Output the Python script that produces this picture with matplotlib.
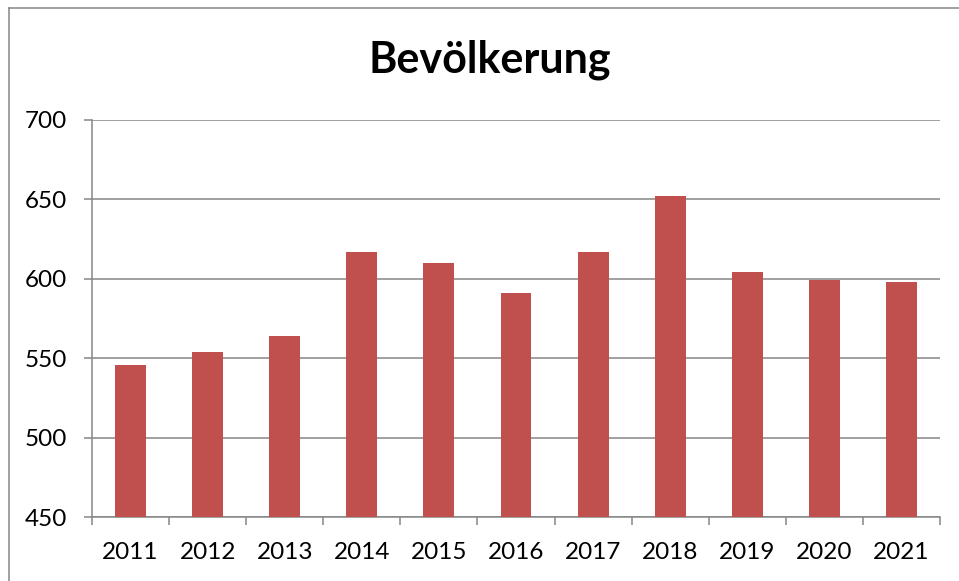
import matplotlib.pyplot as plt
import numpy as np
from matplotlib.lines import Line2D

plt.rcParams['font.family'] = ['Lato', 'DejaVu Sans']

years = ['2011', '2012', '2013', '2014', '2015', '2016',
         '2017', '2018', '2019', '2020', '2021']
values = [546, 554, 564, 617, 610, 591, 617, 652, 604, 599, 598]
yticks = [450, 500, 550, 600, 650, 700]

W, H = 959, 581
fig = plt.figure(figsize=(W / 100, H / 100), dpi=100)
ax = fig.add_axes([92 / W, 1 - 517 / H, (940 - 92) / W, (517 - 120) / H])

grey = '#868686'
x = np.arange(len(years))
ax.bar(x, [v - yticks[0] for v in values], bottom=yticks[0], width=0.4,
       color='#C0504D', zorder=3)

ax.set_xlim(-0.5, len(years) - 0.5)
ax.set_ylim(yticks[0], yticks[-1])
ax.set_yticks(yticks)
ax.set_yticklabels([str(v) for v in yticks], fontsize=17.5)
ax.yaxis.grid(True, color=grey, linewidth=1.1, zorder=0)

# category labels in the middle, tick marks on the boundaries
ax.set_xticks(x)
ax.set_xticklabels(years, fontsize=17.5)
ax.tick_params(axis='x', length=0, pad=18)
ax.set_xticks(np.arange(len(years) + 1) - 0.5, minor=True)
ax.tick_params(axis='x', which='minor', length=6, color=grey, width=1.1)
ax.tick_params(axis='y', length=6, color=grey, width=1.1, pad=12)

for s in ['top', 'right']:
    ax.spines[s].set_visible(False)
for s in ['left', 'bottom']:
    ax.spines[s].set_color(grey)
    ax.spines[s].set_linewidth(1.1)

fig.text(490 / W, 1 - 60 / H, 'Bevölkerung', fontsize=31, fontweight='bold',
         ha='center', va='center')

# chart area border (top and left visible)
fig.add_artist(Line2D([9 / W, 1], [1 - 8 / H, 1 - 8 / H], color=grey, linewidth=1.1))
fig.add_artist(Line2D([9 / W, 9 / W], [0, 1 - 8 / H], color=grey, linewidth=1.1))

fig.savefig('out.png', dpi=100)
